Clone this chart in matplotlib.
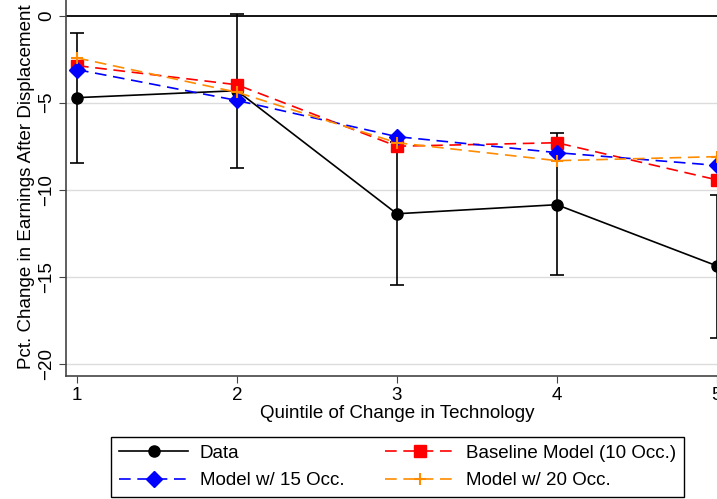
import numpy as np
import matplotlib
matplotlib.use("Agg")
import matplotlib.pyplot as plt

plt.rcParams['font.family'] = ['Liberation Sans', 'DejaVu Sans']

# quintiles of change in technology
quintile = [1, 2, 3, 4, 5]

# data with 95% confidence interval bounds
data = [-4.71, -4.31, -11.38, -10.86, -14.37]
data_hi = [-0.98, 0.10, -7.24, -6.72, -10.3]
data_lo = [-8.45, -8.74, -15.46, -14.90, -18.5]

# model predictions
baseline = [-2.87, -3.97, -7.50, -7.30, -9.43]
occ15 = [-3.10, -4.87, -6.95, -7.87, -8.60]
occ20 = [-2.43, -4.40, -7.30, -8.33, -8.10]

yticks = [0, -5, -10, -15, -20]
fs = 13.5

fig = plt.figure(figsize=(7.17, 4.99), dpi=100)
ax = fig.add_axes([0.092, 0.2465, 0.923, 0.757])

for y in yticks[1:]:
    ax.axhline(y, color='#dcdcdc', lw=1.0, zorder=0)
ax.axhline(0, color='black', lw=1.3, zorder=1)

d = np.array(data)
yerr = [d - np.array(data_lo), np.array(data_hi) - d]
ax.errorbar(quintile, data, yerr=yerr, fmt='none', ecolor='black',
            elinewidth=1.2, capsize=5, capthick=1.2, zorder=2)

ax.plot(quintile, data, color='black', lw=1.2, marker='o', ms=8,
        label='Data', zorder=3)
ax.plot(quintile, baseline, color='red', lw=1.2, ls=(0, (7, 4)),
        marker='s', ms=8, label='Baseline Model (10 Occ.)', zorder=3)
ax.plot(quintile, occ15, color='blue', lw=1.2, ls=(0, (7, 4)),
        marker='D', ms=8, label='Model w/ 15 Occ.', zorder=3)
ax.plot(quintile, occ20, color='darkorange', lw=1.2, ls=(0, (7, 4)),
        marker='+', ms=9, mew=1.5, label='Model w/ 20 Occ.', zorder=3)

ax.set_xlim(0.931, 5.069)
ax.set_ylim(-20.7, 1.0)
ax.set_xticks(quintile)
ax.set_yticks(yticks)
ax.set_yticklabels(['0', '\u22125', '\u221210', '\u221215', '\u221220'],
                   rotation=90, va='center')
ax.tick_params(labelsize=fs, color='#444444', length=5, pad=3)

for s in ['top', 'right']:
    ax.spines[s].set_visible(False)
for s in ['left', 'bottom']:
    ax.spines[s].set_color('#444444')
    ax.spines[s].set_linewidth(1.2)

ax.set_xlabel('Quintile of Change in Technology', fontsize=fs, labelpad=1)
ax.set_ylabel('Pct. Change in Earnings After Displacement', fontsize=fs,
              labelpad=2)

h, l = ax.get_legend_handles_labels()
order = [0, 2, 1, 3]
leg = fig.legend([h[i] for i in order], [l[i] for i in order], ncol=2,
                 loc='upper center', bbox_to_anchor=(0.5545, 1 - 437 / 499),
                 fontsize=fs, handlelength=3.7, fancybox=False,
                 edgecolor='black', framealpha=1, borderpad=0.4,
                 labelspacing=0.57, columnspacing=2.2, handletextpad=0.6,
                 borderaxespad=0)
leg.get_frame().set_linewidth(1.0)

fig.savefig('out.png', dpi=100)
